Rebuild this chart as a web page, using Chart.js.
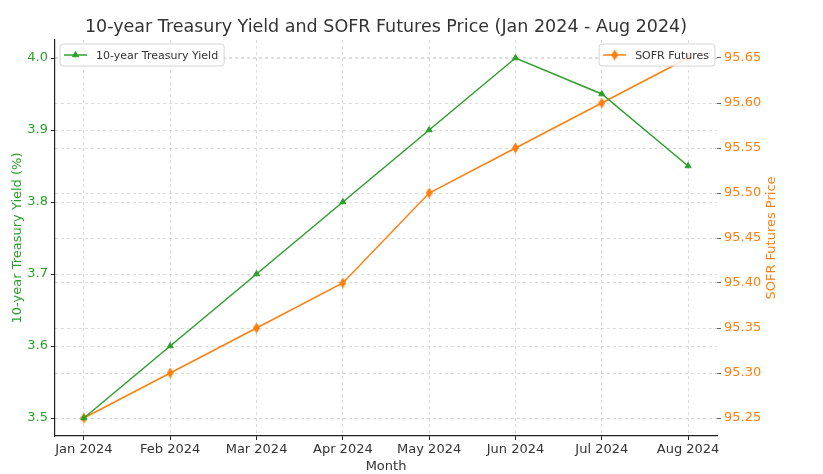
<!DOCTYPE html>
<html>
<head>
<meta charset="utf-8">
<script src="https://cdn.jsdelivr.net/npm/chart.js@4"></script>
<style>
  html, body { margin: 0; padding: 0; background: #fff; }
  #wrap { width: 823px; height: 474px; }
</style>
</head>
<body>
<div id="wrap"><canvas id="mainchart"></canvas></div>
<script>
const months = ['Jan 2024', 'Feb 2024', 'Mar 2024', 'Apr 2024', 'May 2024', 'Jun 2024', 'Jul 2024', 'Aug 2024'];
const treasury_yield = [3.5, 3.6, 3.7, 3.8, 3.9, 4.0, 3.95, 3.85];
const sofr_futures = [95.25, 95.30, 95.35, 95.40, 95.50, 95.55, 95.60, 95.65];
const yield_ticks = [3.5, 3.6, 3.7, 3.8, 3.9, 4.0];
const sofr_ticks = [95.25, 95.30, 95.35, 95.40, 95.45, 95.50, 95.55, 95.60, 95.65];

const chart_title = '10-year Treasury Yield and SOFR Futures Price (Jan 2024 - Aug 2024)';
const right_axis_title = 'SOFR Futures Price';

const GREEN = '#2ca02c';
const ORANGE = '#ff7f0e';
const FONT = 'DejaVu Sans';

const ctx = document.getElementById('mainchart');

/* thin diamond marker, like matplotlib 'd' */
function thin_diamond(color) {
  var cv = document.createElement('canvas');
  cv.width = 7;
  cv.height = 11;
  var c = cv.getContext('2d');
  c.beginPath();
  c.moveTo(3.5, 0);
  c.lineTo(7, 5.5);
  c.lineTo(3.5, 11);
  c.lineTo(0, 5.5);
  c.closePath();
  c.fillStyle = color;
  c.fill();
  return cv;
}
const diamond = thin_diamond(ORANGE);

/* matplotlib style: title over the plot area, bottom-to-top right label, two legend boxes */
const mplExtras = {
  id: 'mplExtras',
  afterDraw(chart) {
    const c = chart.ctx;
    const area = chart.chartArea;
    c.save();

    /* title, centred on the axes */
    c.font = '17.5px "' + FONT + '"';
    c.fillStyle = '#333';
    c.textAlign = 'center';
    c.textBaseline = 'middle';
    c.fillText(chart_title, (area.left + area.right) / 2, 27);

    /* right axis label */
    c.save();
    c.translate(772, (area.top + area.bottom) / 2);
    c.rotate(-Math.PI / 2);
    c.font = '13px "' + FONT + '"';
    c.fillStyle = ORANGE;
    c.fillText(right_axis_title, 0, 0);
    c.restore();

    /* legends */
    c.font = '11px "' + FONT + '"';
    c.textAlign = 'left';
    chart.data.datasets.forEach((ds, i) => {
      const tw = c.measureText(ds.label).width;
      const w = tw + 42;
      const h = 22;
      const x = i === 0 ? area.left + 5 : area.right - 2 - w;
      const y = area.top + 4;
      c.beginPath();
      c.roundRect(x, y, w, h, 3);
      c.fillStyle = 'rgba(255,255,255,0.85)';
      c.fill();
      c.strokeStyle = '#d5d5d5';
      c.lineWidth = 1;
      c.stroke();
      const my = y + h / 2;
      c.beginPath();
      c.moveTo(x + 4, my);
      c.lineTo(x + 27, my);
      c.strokeStyle = ds.borderColor;
      c.lineWidth = 1.5;
      c.stroke();
      c.fillStyle = ds.borderColor;
      c.lineWidth = 1;
      Chart.helpers.drawPoint(c, {
        pointStyle: ds.pointStyle, radius: 3.5, rotation: 0, borderWidth: 1
      }, x + 15.5, my);
      c.fillStyle = '#333';
      c.textBaseline = 'middle';
      c.fillText(ds.label, x + 36, my + 1);
    });
    c.restore();
  }
};

const data = {
  datasets: [{
    label: '10-year Treasury Yield',
    data: treasury_yield.map((v, i) => ({ x: i, y: v })),
    yAxisID: 'y',
    borderColor: GREEN,
    backgroundColor: GREEN,
    borderWidth: 1.5,
    pointStyle: 'triangle',
    pointRadius: 3.5,
    pointBorderWidth: 1,
    tension: 0
  }, {
    label: 'SOFR Futures',
    data: sofr_futures.map((v, i) => ({ x: i, y: v })),
    yAxisID: 'y1',
    borderColor: ORANGE,
    backgroundColor: ORANGE,
    borderWidth: 1.5,
    pointStyle: diamond,
    pointRadius: 4,
    tension: 0
  }]
};

const gridStyle = {
  color: '#d3d3d3',
  lineWidth: 0.8,
  tickColor: '#222',
  tickLength: 4,
  tickWidth: 1
};

const config = {
  type: 'line',
  data: data,
  plugins: [mplExtras],
  options: {
    responsive: true,
    maintainAspectRatio: false,
    animation: false,
    layout: { padding: { top: 40 } },
    plugins: {
      legend: { display: false },
      tooltip: { enabled: false },
      title: { display: false }
    },
    scales: {
      x: {
        type: 'linear',
        min: -0.335,
        max: 7.335,
        afterBuildTicks: (axis) => { axis.ticks = months.map((m, i) => ({ value: i })); },
        afterFit: (axis) => { axis.height = 38; },
        ticks: {
          callback: (v) => months[v],
          color: '#333',
          font: { family: FONT, size: 13 },
          padding: 2,
          maxRotation: 0,
          autoSkip: false
        },
        grid: gridStyle,
        border: { display: true, color: '#222', width: 1.2, dash: [3, 3] },
        title: {
          display: true,
          text: 'Month',
          color: '#333',
          font: { family: FONT, size: 13 },
          padding: { top: 0, bottom: 0 }
        }
      },
      y: {
        type: 'linear',
        position: 'left',
        min: 3.475,
        max: 4.025,
        afterBuildTicks: (axis) => { axis.ticks = yield_ticks.map(v => ({ value: v })); },
        afterFit: (axis) => { axis.width = 55; },
        ticks: {
          callback: (v) => v.toFixed(1),
          color: GREEN,
          font: { family: FONT, size: 13 },
          padding: 3
        },
        grid: gridStyle,
        border: { display: true, color: '#222', width: 1.2, dash: [3, 3] },
        title: {
          display: true,
          text: '10-year Treasury Yield (%)',
          color: GREEN,
          font: { family: FONT, size: 13 },
          padding: { top: 10, bottom: 0 }
        }
      },
      y1: {
        type: 'linear',
        position: 'right',
        min: 95.23,
        max: 95.67,
        afterBuildTicks: (axis) => { axis.ticks = sofr_ticks.map(v => ({ value: v })); },
        afterFit: (axis) => { axis.width = 106; },
        ticks: {
          callback: (v) => v.toFixed(2),
          color: ORANGE,
          font: { family: FONT, size: 13 },
          padding: 3
        },
        grid: Object.assign({}, gridStyle, { tickColor: '#666' }),
        border: { display: false, dash: [3, 3] },
        title: { display: false }
      }
    }
  }
};

var mainchart = new Chart(ctx, config);
</script>
</body>
</html>
